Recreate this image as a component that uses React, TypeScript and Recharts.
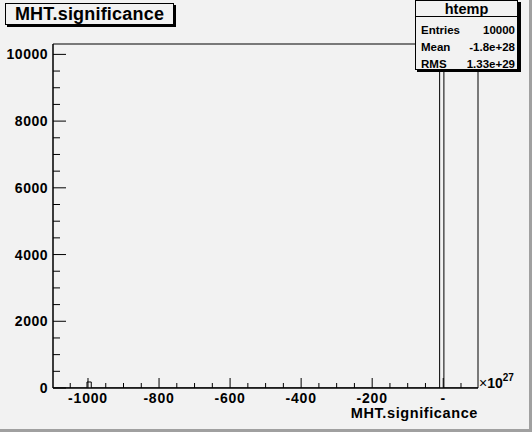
import { ComposedChart, Line, XAxis, YAxis, ReferenceArea } from 'recharts';

// histogram outline: bin edges where the count changes, and the count from that edge on
const EDGES = [-1098.5, -1002.8, -990.8, -10.1, 1.9, 97.9];
const COUNTS = [0, 180, 0, 9820, 0, 0];

const X_MIN = -1098.5;
const X_MAX = 97.9;
const Y_MAX = 10311;

const X_MAJOR = [-1000, -800, -600, -400, -200, 0];
const X_LABELS = ['-1000', '-800', '-600', '-400', '-200', '-'];
const X_TICKS = [
  -1050, -1000, -950, -900, -850, -800, -750, -700, -650, -600, -550, -500,
  -450, -400, -350, -300, -250, -200, -150, -100, -50, 0, 50,
];

const Y_MAJOR = [0, 2000, 4000, 6000, 8000, 10000];
const Y_TICKS = [
  0, 500, 1000, 1500, 2000, 2500, 3000, 3500, 4000, 4500, 5000, 5500, 6000,
  6500, 7000, 7500, 8000, 8500, 9000, 9500, 10000,
];

const STATS = [
  { label: 'Entries', value: '10000' },
  { label: 'Mean', value: '-1.8e+28' },
  { label: 'RMS', value: '1.33e+29' },
];

const histData = EDGES.map((x, i) => ({ x, y: COUNTS[i] }));

const BG = '#f2f2f2';
const FONT = '"Liberation Sans", Arial, Helvetica, sans-serif';

const XTick = ({ x, y, payload }: any) => {
  const idx = X_MAJOR.indexOf(payload.value);
  const major = idx >= 0;
  return (
    <g>
      <line x1={x} x2={x} y1={y} y2={y - (major ? 10 : 5)} stroke="#000" />
      {major && (
        <text
          x={x}
          y={y + 15}
          textAnchor="middle"
          fontFamily={FONT}
          fontWeight="bold"
          fontSize={14}
          letterSpacing={0.8}
          fill="#000"
        >
          {X_LABELS[idx]}
        </text>
      )}
    </g>
  );
};

const YTick = ({ x, y, payload }: any) => {
  const major = Y_MAJOR.includes(payload.value);
  return (
    <g>
      <line x1={x} x2={x + (major ? 13 : 7)} y1={y} y2={y} stroke="#000" />
      {major && (
        <text
          x={x - 5}
          y={y + 5}
          textAnchor="end"
          fontFamily={FONT}
          fontWeight="bold"
          fontSize={14}
          letterSpacing={0.5}
          fill="#000"
        >
          {payload.value}
        </text>
      )}
    </g>
  );
};

export default function App() {
  return (
    <div
      style={{
        position: 'absolute',
        left: 0,
        top: 0,
        width: 532,
        height: 432,
        background: BG,
        fontFamily: FONT,
      }}
    >
      <ComposedChart
        width={532}
        height={432}
        data={histData}
        margin={{ top: 44, right: 54, bottom: 0, left: 0 }}
      >
        <XAxis
          type="number"
          dataKey="x"
          domain={[X_MIN, X_MAX]}
          allowDataOverflow
          ticks={X_TICKS}
          interval={0}
          tick={<XTick />}
          tickLine={false}
          tickSize={0}
          tickMargin={0}
          axisLine={{ stroke: '#000' }}
          height={44}
        />
        <YAxis
          type="number"
          domain={[0, Y_MAX]}
          allowDataOverflow
          ticks={Y_TICKS}
          interval={0}
          tick={<YTick />}
          tickLine={false}
          tickSize={0}
          tickMargin={0}
          axisLine={{ stroke: '#000' }}
          width={53}
        />
        <ReferenceArea
          x1={X_MIN}
          x2={X_MAX}
          y1={0}
          y2={Y_MAX}
          fill="none"
          stroke="#000"
          fillOpacity={0}
        />
        <Line
          type="stepAfter"
          dataKey="y"
          stroke="#000"
          strokeWidth={1}
          dot={false}
          activeDot={false}
          isAnimationActive={false}
        />
      </ComposedChart>

      <svg
        width={532}
        height={432}
        style={{ position: 'absolute', left: 0, top: 0, pointerEvents: 'none' }}
      >
        {/* title box */}
        <rect x={7} y={5} width={169} height={22} fill="#000" />
        <rect x={5.5} y={3.5} width={168} height={21} fill={BG} stroke="#000" />
        <text
          x={89.5}
          y={20}
          textAnchor="middle"
          fontFamily={FONT}
          fontWeight="bold"
          fontSize={18}
          letterSpacing={0.2}
        >
          MHT.significance
        </text>

        {/* stats box */}
        <rect x={417} y={2} width={104} height={70} fill="#000" />
        <rect x={415.5} y={0.5} width={102} height={69} fill={BG} stroke="#000" />
        <line x1={415.5} x2={517.5} y1={16.5} y2={16.5} stroke="#000" />
        <text
          x={466.5}
          y={14}
          textAnchor="middle"
          fontFamily={FONT}
          fontWeight="bold"
          fontSize={14.5}
        >
          htemp
        </text>
        {STATS.map((s, i) => (
          <g key={s.label}>
            <text x={421} y={33.5 + i * 17} fontFamily={FONT} fontWeight="bold" fontSize={11.5}>
              {s.label}
            </text>
            <text
              x={515}
              y={33.5 + i * 17}
              textAnchor="end"
              fontFamily={FONT}
              fontWeight="bold"
              fontSize={11.5}
            >
              {s.value}
            </text>
          </g>
        ))}

        {/* exponent */}
        <text x={479} y={388} fontFamily={FONT} fontSize={14}>
          <tspan>×</tspan>
          <tspan fontWeight="bold">10</tspan>
          <tspan fontWeight="bold" fontSize={10} dy={-7}>
            27
          </tspan>
        </text>

        {/* axis title */}
        <text
          x={478}
          y={418}
          textAnchor="end"
          fontFamily={FONT}
          fontWeight="bold"
          fontSize={14.5}
          letterSpacing={0.6}
        >
          MHT.significance
        </text>

        {/* canvas bevel */}
        <rect x={529} y={0} width={3} height={432} fill="#a0a0a0" />
        <rect x={0} y={429} width={532} height={3} fill="#a0a0a0" />
      </svg>
    </div>
  );
}
